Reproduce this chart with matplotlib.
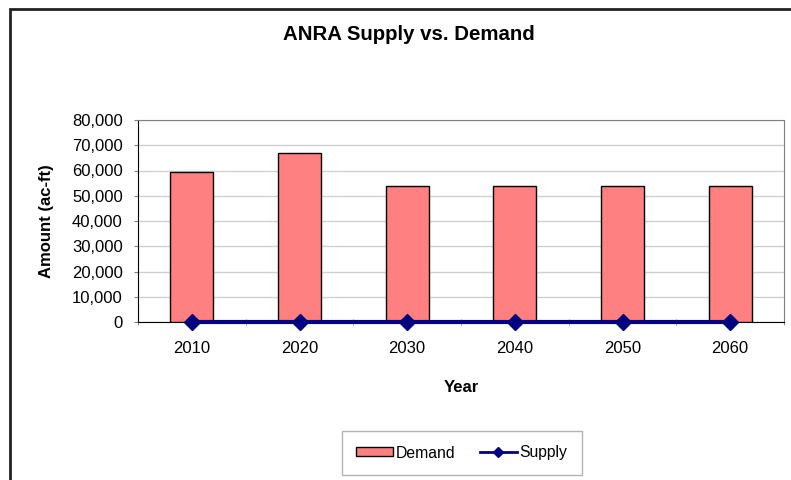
import matplotlib
matplotlib.use("Agg")
import matplotlib.pyplot as plt
import matplotlib.patches as mpatches
from matplotlib.lines import Line2D
from matplotlib.ticker import FuncFormatter, MultipleLocator
import numpy as np

plt.rcParams["font.family"] = ["Liberation Sans", "DejaVu Sans"]

years = ["2010", "2020", "2030", "2040", "2050", "2060"]
demand = [59300, 67000, 53700, 53700, 53700, 53700]
supply = [0, 0, 0, 0, 0, 0]

W, H = 791, 480
fig = plt.figure(figsize=(W / 100, H / 100), dpi=100)
fig.patch.set_facecolor("white")

# outer chart frame (right/bottom edges fall outside the crop)
frame = mpatches.Rectangle((10 / W, -0.5), 2.0, 0.5 + 1 - 9 / H,
                           transform=fig.transFigure, fill=False,
                           edgecolor="#222222", linewidth=2.0)
fig.add_artist(frame)

ax = fig.add_axes([138 / W, 1 - 322 / H, (784 - 138) / W, (322 - 120) / H])
x = np.arange(len(years))

ax.bar(x, demand, width=0.4, color="#ff8080", edgecolor="#000000",
       linewidth=1.0, zorder=3)
ax.plot(x, supply, color="#000080", linewidth=3, marker="D",
        markersize=8, clip_on=False, zorder=4)

ax.set_xlim(-0.5, len(years) - 0.5)
ax.set_ylim(0, 80000)
ax.yaxis.set_major_locator(MultipleLocator(10000))
ax.yaxis.set_major_formatter(FuncFormatter(lambda v, p: f"{int(v):,}"))
ax.grid(axis="y", color="#d0d0d0", linewidth=1.0, zorder=0)

ax.set_xticks(x)
ax.set_xticklabels(years)
ax.set_xticks(np.arange(-0.5, len(years)), minor=True)
ax.tick_params(axis="x", which="major", length=0, pad=14, labelsize=12)
ax.tick_params(axis="x", which="minor", length=5, color="#808080",
               direction="inout")
ax.tick_params(axis="y", length=3, direction="out", color="#808080",
               labelsize=12, pad=8)

for side in ("top", "right"):
    ax.spines[side].set_color("#808080")
for side in ("left", "bottom"):
    ax.spines[side].set_color("#000000")

ax.set_xlabel("Year", fontsize=12, fontweight="bold", labelpad=17)
ax.set_ylabel("Amount (ac-ft)", fontsize=12, fontweight="bold", labelpad=13)

fig.text(409 / W, 1 - 35 / H, "ANRA Supply vs. Demand", ha="center",
         va="center", fontsize=14.7, fontweight="bold")

handles = [
    mpatches.Patch(facecolor="#ff8080", edgecolor="#000000", label="Demand"),
    Line2D([0], [0], color="#000080", linewidth=2, marker="D",
           markersize=5, label="Supply"),
]
leg = fig.legend(handles=handles, loc="center", ncol=2,
                 bbox_to_anchor=(462 / W, 1 - 453 / H), frameon=True,
                 fancybox=False, edgecolor="#a0a0a0", fontsize=11.3,
                 handlelength=2.3, handleheight=0.5, handletextpad=0.2,
                 columnspacing=1.6, borderpad=0.9, borderaxespad=0)
leg.get_frame().set_linewidth(1.0)

fig.savefig("out.png", dpi=100)
